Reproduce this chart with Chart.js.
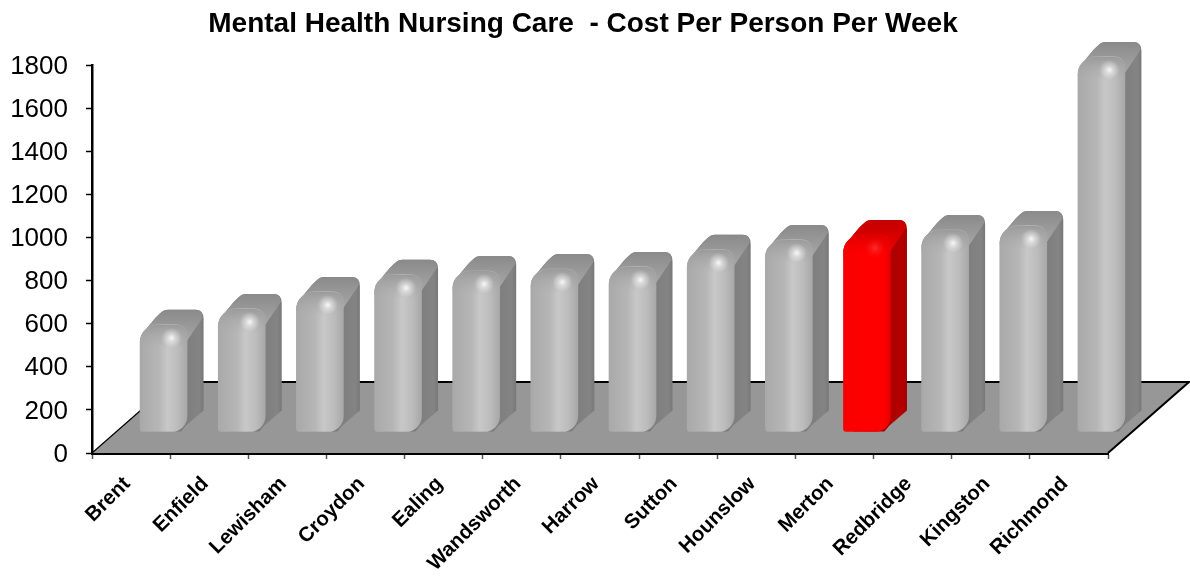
<!DOCTYPE html>
<html><head><meta charset="utf-8">
<style>html,body{margin:0;padding:0;background:#fff}#w{width:1190px;height:577px}</style>
<script src="https://cdn.jsdelivr.net/npm/chart.js@4"></script>
</head><body><div id="w"><canvas id="c" width="1190" height="577"></canvas></div>
<script>
const categories = ["Brent","Enfield","Lewisham","Croydon","Ealing","Wandsworth","Harrow","Sutton","Hounslow","Merton","Redbridge","Kingston","Richmond"];
const costPerWeek = [497,571,650,729,747,756,766,845,891,914,937,956,1740];
const highlighted = ["Merton"];
const titleText = "Mental Health Nursing Care  - Cost Per Person Per Week";
const FONT = '"Liberation Sans", Arial, sans-serif';

// 3D look: the bars stand back on the floor, offset from the axes
const SHIFT = {x:32.5, y:-21};
const DEPTH = {x:16.5, y:15};
const FLOOR = {x:81, y:71};
const TITLE_SHIFT = 29;

const isHot = i => highlighted.includes(categories[i]);

function frontFill(c){
  const ch = c.chart;
  if(!ch.chartArea || c.dataIndex === undefined) return '#b8b8b8';
  const x = ch.scales.x.getPixelForValue(c.dataIndex), g = ch.ctx.createLinearGradient(x-23.5,0,x+23.5,0);
  if(isHot(c.dataIndex)){
    g.addColorStop(0,'#f80000');g.addColorStop(.5,'#ff0000');g.addColorStop(.9,'#fc0000');g.addColorStop(1,'#e00000');
  }else{
    g.addColorStop(0,'#a9a9a9');g.addColorStop(.4,'#b6b6b6');g.addColorStop(.58,'#c8c8c8');g.addColorStop(.8,'#bcbcbc');g.addColorStop(1,'#a8a8a8');
  }
  return g;
}

const floorPlugin = {
  id:'floor',
  afterLayout(ch){
    ch.titleBlock.left += TITLE_SHIFT;
    ch.titleBlock.right += TITLE_SHIFT;
  },
  beforeDatasetsDraw(ch){
    const {left,right,bottom} = ch.chartArea, c = ch.ctx;
    c.save();
    c.beginPath();
    c.moveTo(left,bottom);c.lineTo(left+FLOOR.x,bottom-FLOOR.y);c.lineTo(right+FLOOR.x,bottom-FLOOR.y);c.lineTo(right,bottom);c.closePath();
    c.fillStyle='#979797';c.fill();
    c.strokeStyle='#000';c.lineWidth=1.2;
    c.beginPath();c.moveTo(left,bottom);c.lineTo(left+FLOOR.x,bottom-FLOOR.y);c.stroke();
    c.lineWidth=2;
    c.beginPath();c.moveTo(left+FLOOR.x,bottom-FLOOR.y);c.lineTo(right+FLOOR.x,bottom-FLOOR.y);c.lineTo(right,bottom);c.stroke();
    c.restore();
  }
};

function traceShoulder(c,x0,t,dy){
  c.moveTo(x0,t+17);
  c.bezierCurveTo(x0+.5,t+11,x0+2,t+8,x0+5.5,t+5);
  c.lineTo(x0+15.5,t-7);
  c.bezierCurveTo(x0+19,t-10,x0+22,t-dy,x0+28,t-dy);
}

const barsPlugin = {
  id:'bars3d',
  beforeDatasetDraw(ch,args){
    const c = ch.ctx;
    c.save();
    c.translate(SHIFT.x,SHIFT.y);
    args.meta.data.forEach((el,i)=>{
      const x0=el.x-el.width/2,x1=el.x+el.width/2,t=el.y,b=el.base,dx=DEPTH.x,dy=DEPTH.y,hot=isHot(i);
      // side face
      const sg=c.createLinearGradient(x1-6,0,x1+dx,0);
      sg.addColorStop(0,hot?'#a80000':'#7c7c7c');sg.addColorStop(.8,hot?'#b40000':'#848484');sg.addColorStop(1,hot?'#a00000':'#787878');
      c.beginPath();
      traceShoulder(c,x0,t,dy);
      c.lineTo(x1+dx-8,t-dy);
      c.quadraticCurveTo(x1+dx,t-dy,x1+dx,t-dy+9);
      c.lineTo(x1+dx,b-dy-6);
      c.lineTo(x1-1,b-6);
      c.lineTo(x1-6,b);
      c.lineTo(x0+10,b);
      c.closePath();
      c.fillStyle=sg;c.fill();
      // top face
      const tg=c.createLinearGradient(0,t-dy,0,t+20);
      tg.addColorStop(0,hot?'#c40000':'#8a8a8a');tg.addColorStop(1,hot?'#f00000':'#aaaaaa');
      c.beginPath();
      traceShoulder(c,x0,t,dy);
      c.lineTo(x1+dx-8,t-dy);
      c.quadraticCurveTo(x1+dx-1,t-dy,x1+dx-1,t-dy+8);
      c.lineTo(x1,t+16);
      c.closePath();
      c.fillStyle=tg;c.fill();
    });
  },
  afterDatasetDraw(ch,args){
    const c = ch.ctx;
    args.meta.data.forEach((el,i)=>{
      const x0=el.x-el.width/2,x1=el.x+el.width/2,t=el.y,hot=isHot(i);
      // shoulder shading, blending the front into the top face
      c.save();
      c.beginPath();
      c.roundRect(x0,t,x1-x0,40,[18,10,0,0]);
      c.clip();
      const g=c.createLinearGradient(0,t,0,t+24);
      g.addColorStop(0,hot?'rgba(220,0,0,1)':'rgba(154,154,154,1)');
      g.addColorStop(1,hot?'rgba(255,0,0,0)':'rgba(172,172,172,0)');
      c.fillStyle=g;c.fillRect(x0,t,x1-x0,40);
      const hx=x0+31.5,hy=t+13,r=c.createRadialGradient(hx,hy,0,hx,hy,10);
      r.addColorStop(0,hot?'rgba(255,90,90,.5)':'rgba(255,255,255,.9)');
      r.addColorStop(.4,hot?'rgba(255,70,70,.28)':'rgba(255,255,255,.45)');
      r.addColorStop(1,hot?'rgba(255,60,60,0)':'rgba(255,255,255,0)');
      c.fillStyle=r;c.fillRect(hx-11,hy-11,22,22);
      c.restore();
    });
    c.restore();
  }
};

new Chart(document.getElementById('c'),{
  type:'bar',
  data:{labels:categories,datasets:[{
    data:costPerWeek,
    clip:false,
    barThickness:47,
    backgroundColor:frontFill,
    borderWidth:0,
    borderSkipped:false,
    borderRadius:{topLeft:18,topRight:10,bottomRight:16,bottomLeft:3}
  }]},
  options:{
    responsive:false,animation:false,
    layout:{autoPadding:false,padding:{left:0,right:82,top:0,bottom:0}},
    plugins:{
      legend:{display:false},tooltip:{enabled:false},
      title:{display:true,text:titleText,color:'#000',
        font:{family:FONT,size:28,weight:'bold',lineHeight:1.2},
        padding:{top:7,bottom:24.4}}
    },
    scales:{
      x:{
        afterFit(s){s.height=124;},
        border:{color:'#000',width:3},
        grid:{drawOnChartArea:false,offset:true,tickLength:6,tickColor:'#555',tickWidth:1.5},
        ticks:{color:'#000',font:{family:FONT,size:20.5,weight:'bold'},minRotation:45,maxRotation:45,autoSkip:false,padding:13,labelOffset:-4}
      },
      y:{
        min:0,max:1800,
        afterFit(s){s.width=92;},
        border:{color:'#000',width:2.5},
        grid:{drawOnChartArea:false,tickLength:6,tickColor:'#000',tickWidth:1.5},
        ticks:{color:'#000',stepSize:200,font:{family:FONT,size:26},padding:18,labelOffset:1.5,callback:v=>String(v)}
      }
    }
  },
  plugins:[floorPlugin,barsPlugin]
});
</script></body></html>
